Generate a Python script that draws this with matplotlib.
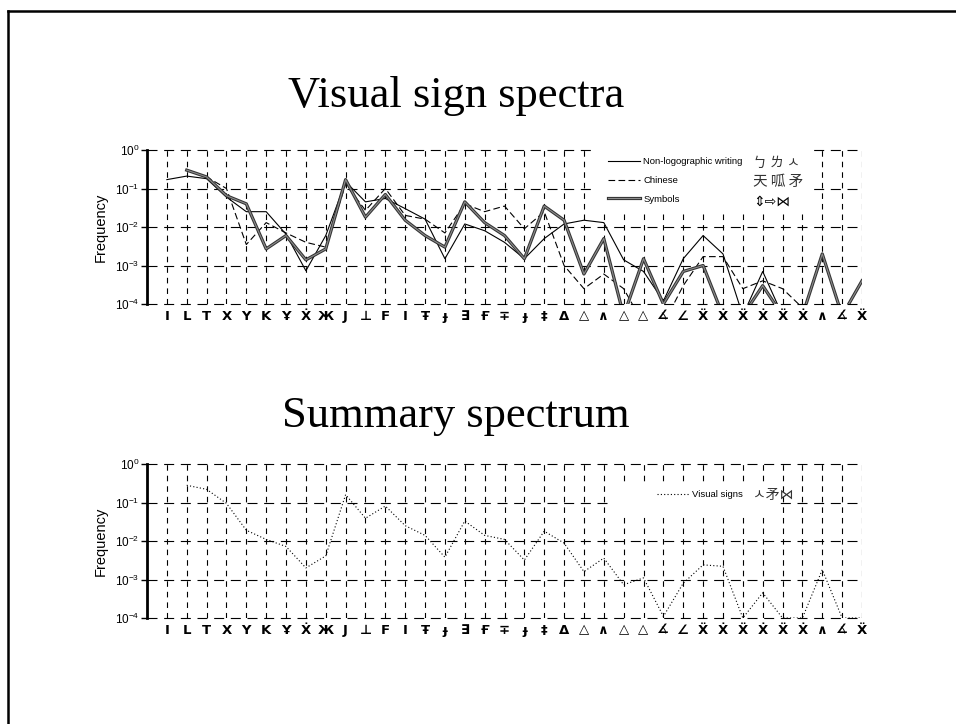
import numpy as np
import matplotlib.pyplot as plt
import matplotlib.patheffects as pe
from matplotlib.patches import Rectangle
from matplotlib.ticker import LogLocator, NullLocator

plt.rcParams['font.family'] = ['Liberation Sans', 'DejaVu Sans']

# 36 elementary sign shapes along the x axis
signs = ['I', 'L', 'T', 'X', 'Y', 'K', 'Ұ', 'Ẋ', 'Ж', 'J', '⊥', 'F',
         'I', 'Ŧ', 'ɟ', '∃', 'Ғ', '∓', 'ɟ', '‡', 'Δ', '△', '∧', '△',
         '△', '∡', '∠', 'Ẍ', 'Ẋ', 'Ẍ', 'Ẋ', 'Ẍ', 'Ẋ', '∧', '∡', 'Ẍ']

nan = np.nan
nonlog = [0.17, 0.21, 0.18, 0.06, 0.025, 0.025, 0.0065, 0.00073, 0.006,
          0.15, 0.045, 0.055, 0.03, 0.016, 0.0015, 0.012, 0.008, 0.004,
          0.0015, 0.005, 0.012, 0.015, 0.013, 0.0014, 0.0007, 0.00012,
          0.0015, 0.006, 0.002, 5e-5, 0.0007, 5e-5, 5e-5, 5e-5, 5e-5, 5e-5]
chinese = [nan, 0.3, 0.2, 0.1, 0.0035, 0.013, 0.007, 0.004, 0.003,
           0.13, 0.027, 0.1, 0.02, 0.016, 0.007, 0.04, 0.025, 0.035,
           0.009, 0.025, 0.001, 0.00025, 0.0006, 0.00025, 3e-5, 3e-5,
           0.0003, 0.0017, 0.0017, 0.00025, 0.0004, 0.00025, 8e-5, 3e-5, 3e-5, 3e-5]
symbols = [nan, 0.3, 0.2, 0.065, 0.04, 0.0027, 0.006, 0.0014, 0.0027,
           0.17, 0.018, 0.07, 0.015, 0.006, 0.003, 0.045, 0.013, 0.006,
           0.0015, 0.035, 0.015, 0.0006, 0.005, 5e-5, 0.0015, 0.0001,
           0.0007, 0.001, 5e-5, 5e-5, 0.0003, 5e-5, 5e-5, 0.002, 5e-5, 0.0004]
summary = [nan, 0.28, 0.22, 0.095, 0.019, 0.011, 0.0072, 0.002, 0.0041,
           0.16, 0.039, 0.081, 0.025, 0.014, 0.0038, 0.033, 0.014, 0.011,
           0.0032, 0.018, 0.0088, 0.0016, 0.0036, 0.00073, 0.0011, 0.00011,
           0.0008, 0.0024, 0.0022, 0.0001, 0.00045, 0.0001, 0.0001, 0.0018,
           0.0001, 0.0001]

x = np.arange(1, len(signs) + 1)
W, H = 956, 724
cjk = ['Noto Sans CJK SC', 'DejaVu Sans']

fig = plt.figure(figsize=(W / 100, H / 100), dpi=100)

# slide border (left and top edges)
fig.add_artist(plt.Line2D([8 / W, 8 / W], [0, 1 - 11 / H], color='k', lw=1.8))
fig.add_artist(plt.Line2D([8 / W, 1], [1 - 11 / H, 1 - 11 / H], color='k', lw=1.8))


def setup(ax):
    ax.set_yscale('log')
    ax.set_ylim(1e-4, 1)
    ax.set_xlim(0, len(signs))
    ax.set_xticks(x)
    ax.set_xticklabels(signs, fontsize=9.5, fontweight='bold', family='DejaVu Sans')
    ax.tick_params(axis='x', length=0, pad=4)
    ax.yaxis.set_major_locator(LogLocator(base=10, numticks=10))
    ax.yaxis.set_minor_locator(NullLocator())
    ax.tick_params(axis='y', direction='out', length=4, width=1, labelsize=8.5, pad=1.5)
    for s in ['top', 'right', 'bottom']:
        ax.spines[s].set_visible(False)
    ax.spines['left'].set_linewidth(2)
    ax.set_axisbelow(True)
    ax.grid(True, axis='y', color='k', lw=0.8, ls=(0, (9, 6)))
    ax.grid(True, axis='x', color='k', lw=0.8, ls=(0, (5, 4.5)))
    for gl in ax.get_ygridlines():
        gl.set_clip_on(False)
    ax.set_ylabel('Frequency', fontsize=10.5, labelpad=5)


left, width = 147 / W, 715 / W
ax1 = fig.add_axes([left, 1 - 304 / H, width, 154 / H])
ax2 = fig.add_axes([left, 1 - 618 / H, width, 154 / H])
setup(ax1)
setup(ax2)

# top panel
ax1.add_patch(Rectangle((0.627, 0.597), 0.303, 0.41, transform=ax1.transAxes,
                        facecolor='white', edgecolor='none', zorder=1, clip_on=False))
ax1.plot(x, nonlog, color='k', lw=0.8, label='Non-logographic writing', zorder=3)
ax1.plot(x, chinese, color='k', lw=0.8, ls=(0, (6, 3)), label='Chinese', zorder=3)
ax1.plot(x, symbols, color='0.55', lw=0.8, label='Symbols', zorder=3,
         path_effects=[pe.Stroke(linewidth=2.3, foreground='0.2'), pe.Normal()])
ax1.legend(loc='upper left', bbox_to_anchor=(0.645, 0.955), frameon=False,
           fontsize=6.8, handlelength=3.4, handletextpad=0.3, borderpad=0,
           borderaxespad=0, labelspacing=1.05)
gx = (753 - 147) / 715
ax1.text(gx, 0.916, 'ㄅ ㄌ ㅅ', transform=ax1.transAxes, va='center', fontsize=10, family=cjk, color='0.2')
ax1.text(gx, 0.792, '天 呱 矛', transform=ax1.transAxes, va='center', fontsize=10.5, family=cjk, color='0.2')
ax1.text(gx, 0.662, '⇕⇨⋈', transform=ax1.transAxes, va='center', fontsize=10, family=['DejaVu Sans'])

# bottom panel
ax2.add_patch(Rectangle((0.652, 0.669), 0.233, 0.208, transform=ax2.transAxes,
                        facecolor='white', edgecolor='none', zorder=1))
ax2.plot(x, summary, color='k', lw=0.8, ls=(0, (1, 2)), label='Visual signs', zorder=3)
ax2.legend(loc='center left', bbox_to_anchor=(0.713, 0.80), frameon=False,
           fontsize=6.8, handlelength=3.4, handletextpad=0.3, borderpad=0,
           borderaxespad=0)
ax2.text(gx, 0.80, 'ㅅ矛⋈', transform=ax2.transAxes, va='center', fontsize=10, family=cjk, color='0.2')

fig.text(456 / W, 1 - 107 / H, 'Visual sign spectra', ha='center', va='baseline',
         fontsize=32, family='Liberation Serif')
fig.text(456 / W, 1 - 427 / H, 'Summary spectrum', ha='center', va='baseline',
         fontsize=32, family='Liberation Serif')

fig.savefig('out.png', dpi=100)
